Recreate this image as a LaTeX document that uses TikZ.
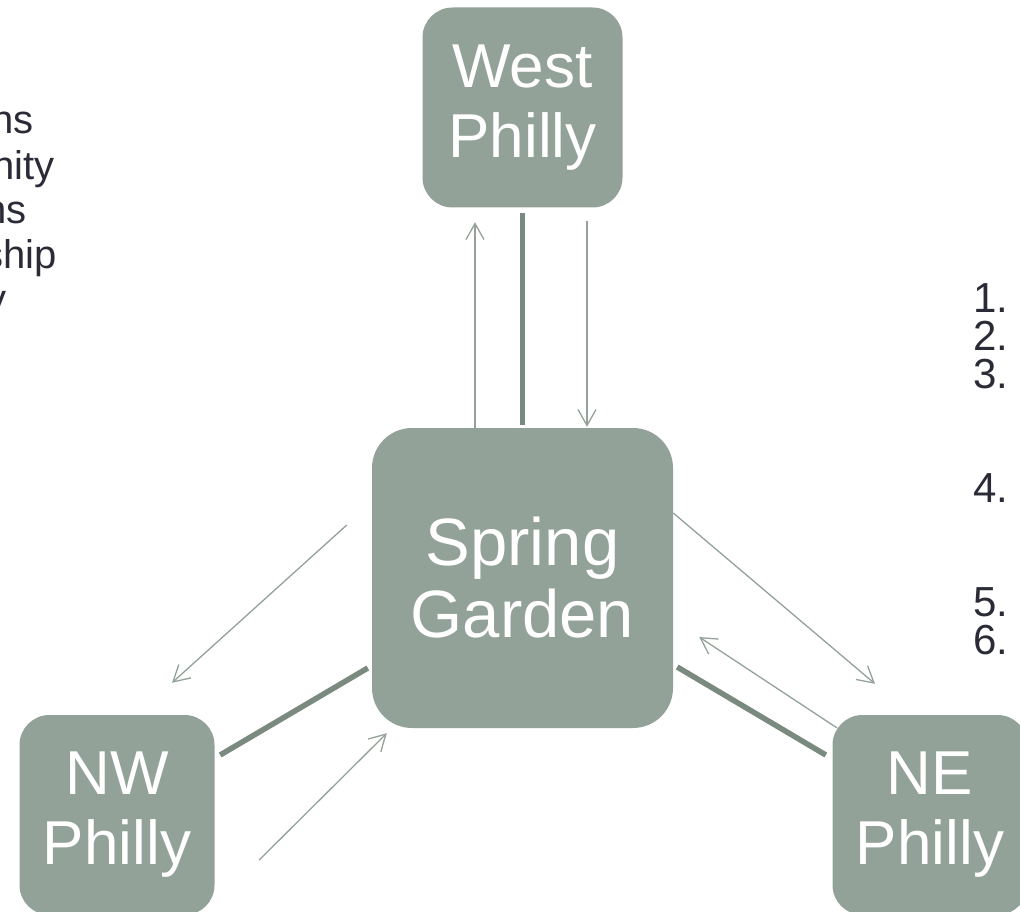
\documentclass[tikz,border=0pt]{standalone}
\usepackage{fontspec}
\setmainfont{Liberation Sans}
\usepackage{tikz}
\usetikzlibrary{calc, arrows.meta, positioning}
\definecolor{areagreen}{HTML}{93A299}
\definecolor{linkgreen}{HTML}{7B8A7F}
\definecolor{listgrey}{HTML}{2A2B36}
\tikzset{
    box/.style={fill=areagreen, text=white, inner sep=0pt, align=center},
    area/.style={box, rounded corners=30pt, minimum width=195pt, minimum height=200pt, font=\fontsize{62}{70}\selectfont, execute at begin node=\rule{0pt}{54pt}},
    hub/.style={box, rounded corners=40pt, minimum width=301pt, minimum height=300pt, font=\fontsize{67}{72}\selectfont},
    flow/.style={draw=areagreen, line width=1.3pt, -{Straight Barb[length=16pt, width=18pt]}},
    link/.style={draw=linkgreen, line width=5.5pt},
    listtext/.style={text=listgrey, font=\fontsize{40}{44}\selectfont, inner sep=0pt, anchor=base west},
    numtext/.style={listtext, font=\fontsize{42}{38}\selectfont, text height=30pt, text depth=0pt}
}

\begin{document}
\begin{tikzpicture}[x=1pt, y=-1pt]
    \useasboundingbox (0,0) rectangle (1020,912);

    % Areas
    \node[hub] (spring) at (522.5,578) {Spring\\Garden};
    \node[area, minimum width=200pt] (west) at (522.5,107.5) {West\\Philly};
    \node[area] (nw) at (117,815) {NW\\Philly};
    \node[area] (ne) at (930,815) {NE\\Philly};

    % Spring Garden <-> West Philly
    \draw[flow] ([xshift=-47.5pt]spring.north) -- ([xshift=-47.5pt, yshift=-14.5pt]west.south);
    \draw[link] ([yshift=-5.5pt]west.south) -- ([yshift=3pt]spring.north);
    \draw[flow] ([xshift=64.5pt, yshift=-13.5pt]west.south) -- ([xshift=64.5pt, yshift=1pt]spring.north);

    % Spring Garden <-> NW Philly
    \draw[flow] ($(spring.west)+(-25,-53)$) -- ($(nw.north)+(55,-32)$);
    \draw[link] ($(spring.west)+(-4,90)$) -- ($(nw.east)+(5.5,-60)$);
    \draw[flow] ($(nw.east)+(44.5,45)$) -- ($(spring.south west)+(15,5)$);

    % Spring Garden <-> NE Philly
    \draw[flow] ($(spring.east)+(0,-65)$) -- ($(ne.north)+(-55,-31)$);
    \draw[flow] ($(ne.north west)+(4.5,13)$) -- ($(spring.east)+(26,59)$);
    \draw[link] ($(spring.east)+(4,89)$) -- ($(ne.west)+(-6.5,-60)$);

    % Cut off text on the left
    \node[listtext] (l1) at (-9,134) {ns};
    \node[listtext] (l2) at (-8,180) {nity};
    \node[listtext] (l3) at (-16,224) {ns};
    \node[listtext] (l4) at (-17,268) {ship};
    \node[listtext] (l5) at (-14,312) {y};

    % Numbered list on the right
    \foreach \n/\l in {1/0,2/1,3/2,4/5,5/8,6/9}
        \node[numtext] (num\n) at (973,312+38*\l) {\n.};
\end{tikzpicture}
\end{document}
